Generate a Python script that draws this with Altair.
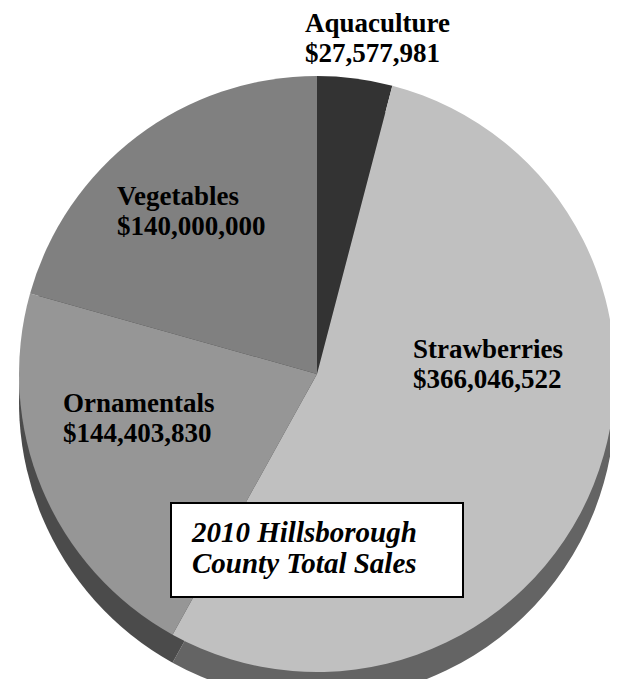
import altair as alt
import pandas as pd

# ---- data ----
categories = ["Aquaculture", "Strawberries", "Ornamentals", "Vegetables"]
sales = [27577981, 366046522, 144403830, 140000000]
order_idx = [0, 1, 2, 3]
top_colors = ["#333333", "#c0c0c0", "#969696", "#808080"]
rim_colors = ["#262626", "#646464", "#4b4b4b", "#3e3e3e"]
title_lines = ["2010 Hillsborough", "County Total Sales"]

# ---- layout constants (chart coordinates) ----
CX, CY, R, DEPTH = 309, 366, 298, 28
label_x = [297, 405, 55, 109]
label_y = [24, 350, 404, 197]
box = dict(x=163, x2=455, y=495, y2=589)
title_x, title_y = 184, 534

df = pd.DataFrame({"category": categories, "sales": sales, "ord": order_idx})
lab = pd.DataFrame({"category": categories, "sales": sales,
                    "lx": label_x, "ly": label_y})

base = alt.Chart(df)

rim = base.mark_arc(strokeWidth=0).encode(
    theta=alt.Theta("sales:Q", stack=True),
    order=alt.Order("ord:Q"),
    color=alt.Color("category:N", scale=alt.Scale(domain=categories, range=rim_colors), legend=None),
    x=alt.value(CX), y=alt.value(CY + DEPTH), radius=alt.value(R),
)

top = base.mark_arc(strokeWidth=0).encode(
    theta=alt.Theta("sales:Q", stack=True),
    order=alt.Order("ord:Q"),
    fill=alt.Fill("category:N", scale=alt.Scale(domain=categories, range=top_colors), legend=None),
    x=alt.value(CX), y=alt.value(CY), radius=alt.value(R),
)

labels = alt.Chart(lab).transform_calculate(
    txt="datum.category + '\\n$' + format(datum.sales, ',')"
).mark_text(
    font="Liberation Serif", fontWeight="bold", fontSize=27, align="left",
    baseline="alphabetic", lineBreak="\n", lineHeight=30, color="#000000",
).encode(
    x=alt.X("lx:Q", scale=None), y=alt.Y("ly:Q", scale=None), text="txt:N",
)

box_rect = alt.Chart(pd.DataFrame({"a": [0]})).mark_rect(
    fill="#ffffff", stroke="#000000", strokeWidth=2
).encode(
    x=alt.value(box["x"]), x2=alt.value(box["x2"]),
    y=alt.value(box["y"]), y2=alt.value(box["y2"]),
)

title_txt = alt.Chart(pd.DataFrame({"t": ["\n".join(title_lines)]})).mark_text(
    font="Liberation Serif", fontWeight="bold", fontStyle="italic", fontSize=29,
    align="left", baseline="alphabetic", lineBreak="\n", lineHeight=31, color="#000000",
).encode(
    x=alt.value(title_x), y=alt.value(title_y), text="t:N",
)

chart = alt.layer(rim, top, labels, box_rect, title_txt).properties(
    width=602, height=671, autosize="none", padding=0
).configure_view(strokeWidth=0)

chart.save("out.html", embed_options={"renderer": "svg", "actions": False})
